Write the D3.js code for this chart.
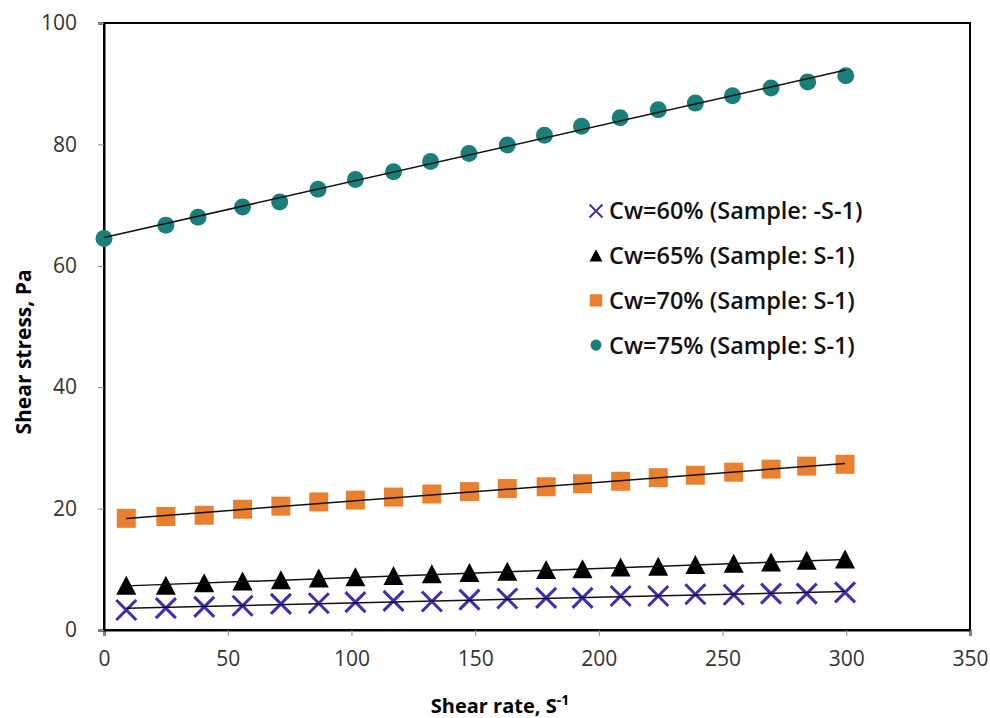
<!DOCTYPE html>
<html>
<head>
<meta charset="utf-8">
<script src="https://cdn.jsdelivr.net/npm/d3@7"></script>
<style>
  body { margin: 0; background: #fff; }
  text { font-family: "Open Sans", "Noto Sans", sans-serif; }
</style>
</head>
<body>
<div class="grafico"></div>
<script>
var margin = { top: 23, right: 20, bottom: 88, left: 104 },
  width = 990,
  height = 718;

// shear rate values (S-1)
const rate75 = [0, 25, 38, 56, 71, 86.5, 101.6, 117, 132, 147.5, 163, 178, 193, 208.6, 224, 239, 254, 269.6, 284.4, 299.8];
const rate = [9, 25, 40.5, 56, 71.5, 86.8, 101.6, 117, 132.5, 147.7, 163, 178.7, 193.4, 208.8, 224, 239, 254.5, 269.6, 284, 299.5];

// shear stress values (Pa)
const cw60 = [3.3, 3.6, 3.8, 4.0, 4.3, 4.4, 4.6, 4.8, 4.7, 5.0, 5.2, 5.3, 5.3, 5.6, 5.6, 5.9, 5.8, 6.0, 6.0, 6.2];
const cw65 = [7.3, 7.3, 7.7, 8.0, 8.2, 8.5, 8.7, 8.9, 9.2, 9.4, 9.6, 9.9, 10.0, 10.3, 10.4, 10.7, 10.9, 11.1, 11.4, 11.6];
const cw70 = [18.4, 18.7, 18.9, 19.9, 20.4, 21.1, 21.4, 21.9, 22.4, 22.8, 23.3, 23.6, 24.1, 24.5, 25.1, 25.5, 26.0, 26.5, 27.0, 27.3];
const cw75 = [64.5, 66.7, 68.0, 69.7, 70.5, 72.6, 74.2, 75.5, 77.2, 78.5, 79.9, 81.5, 83.0, 84.4, 85.7, 86.8, 88.0, 89.3, 90.3, 91.3];

const legendLabels = ["Cw=60% (Sample: -S-1)", "Cw=65% (Sample: S-1)", "Cw=70% (Sample: S-1)", "Cw=75% (Sample: S-1)"];
const xTicks = [0, 50, 100, 150, 200, 250, 300, 350];
const yTicks = [0, 20, 40, 60, 80, 100];

const series = [
  { name: legendLabels[0], xs: rate, ys: cw60, type: "cross", color: "#3b2fb5" },
  { name: legendLabels[1], xs: rate, ys: cw65, type: "triangle", color: "#000000" },
  { name: legendLabels[2], xs: rate, ys: cw70, type: "square", color: "#e8802f" },
  { name: legendLabels[3], xs: rate75, ys: cw75, type: "circle", color: "#1a7f7a" }
];

let svg = d3.select(".grafico")
  .append("svg")
  .attr("width", width)
  .attr("height", height);

const x = d3.scaleLinear().domain([0, 350]).range([margin.left, 970]);
const y = d3.scaleLinear().domain([0, 100]).range([630, margin.top]);

// plot border
svg.append("rect")
  .attr("x", x(0)).attr("y", y(100))
  .attr("width", x(350) - x(0)).attr("height", y(0) - y(100))
  .attr("fill", "none").attr("stroke", "#000").attr("stroke-width", 2);

svg.append("g")
  .attr("class", "x axis")
  .attr("transform", "translate(0," + y(0) + ")")
  .call(d3.axisBottom(x).tickValues(xTicks).tickSize(6).tickPadding(15))
  .call(g => g.select(".domain").attr("stroke-width", 2))
  .call(g => g.selectAll(".tick line").attr("stroke", "#888"))
  .selectAll("text")
  .attr("font-size", 21)
  .attr("fill", "#333");

svg.append("g")
  .attr("class", "y axis")
  .attr("transform", "translate(" + x(0) + ",0)")
  .call(d3.axisLeft(y).tickValues(yTicks).tickSize(6).tickPadding(21))
  .call(g => g.select(".domain").attr("stroke-width", 2))
  .call(g => g.selectAll(".tick line").attr("stroke", "#888"))
  .selectAll("text")
  .attr("font-size", 21)
  .attr("fill", "#333");

// linear trendlines (least squares)
function fit(xs, ys) {
  const mx = d3.mean(xs), my = d3.mean(ys);
  let num = 0, den = 0;
  xs.forEach((v, i) => { num += (v - mx) * (ys[i] - my); den += (v - mx) * (v - mx); });
  const b = num / den;
  return { b: b, a: my - b * mx };
}

function drawMarker(g, type, color) {
  if (type === "cross") {
    g.append("path")
      .attr("d", "M-10,-10L10,10M-10,10L10,-10")
      .attr("stroke", color).attr("stroke-width", 3).attr("fill", "none");
  } else if (type === "triangle") {
    g.append("path").attr("d", "M0,-10L10,9L-10,9Z").attr("fill", color);
  } else if (type === "square") {
    g.append("rect").attr("x", -9.5).attr("y", -9.5).attr("width", 19).attr("height", 19).attr("fill", color);
  } else {
    g.append("circle").attr("r", 8.5).attr("fill", color);
  }
}

series.forEach(s => {
  const pts = s.xs.map((v, i) => ({ x: v, y: s.ys[i] }));
  pts.forEach(p => {
    const g = svg.append("g").attr("transform", "translate(" + x(p.x) + "," + y(p.y) + ")");
    drawMarker(g, s.type, s.color);
  });
  const f = fit(s.xs, s.ys);
  const x0 = d3.min(s.xs), x1 = d3.max(s.xs);
  svg.append("line")
    .attr("x1", x(x0)).attr("y1", y(f.a + f.b * x0))
    .attr("x2", x(x1)).attr("y2", y(f.a + f.b * x1))
    .attr("stroke", "#111").attr("stroke-width", 1.5);
});

// legend
var legend = svg.append("g")
  .selectAll("g")
  .data(series)
  .enter()
  .append("g")
  .attr("transform", (d, i) => "translate(596," + (211 + i * 44.7) + ")");

legend.each(function(d) {
  const g = d3.select(this).append("g").attr("transform", "scale(0.65)");
  drawMarker(g, d.type, d.color);
});

legend.append("text")
  .attr("x", 13)
  .attr("dy", "0.36em")
  .attr("font-size", 23.5)
  .attr("font-weight", 600)
  .attr("fill", "#111")
  .text(d => d.name);

svg.append("text")
  .attr("x", 500).attr("y", 713)
  .attr("text-anchor", "middle")
  .attr("font-size", 20).attr("font-weight", "bold")
  .html('Shear rate, S<tspan dy="-8" font-size="14">-1</tspan>');

svg.append("text")
  .attr("transform", "translate(31,352) rotate(-90)")
  .attr("text-anchor", "middle")
  .attr("font-size", 21).attr("font-weight", "bold")
  .text("Shear stress, Pa");
</script>
</body>
</html>
